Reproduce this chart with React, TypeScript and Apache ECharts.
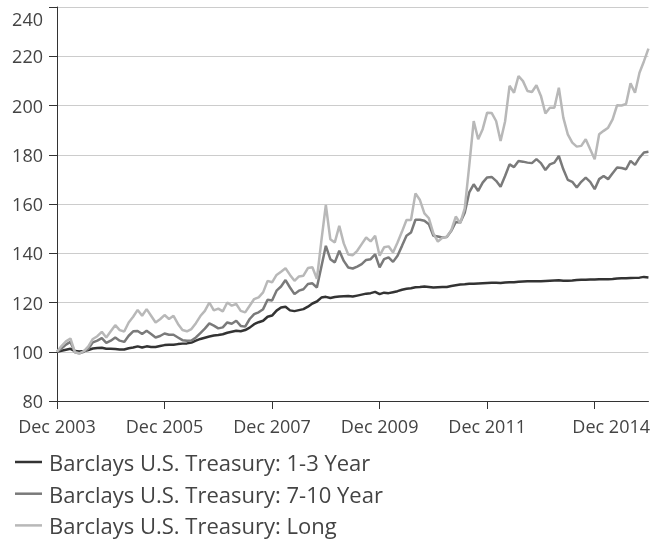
import React, { useEffect, useRef } from "react";
import * as echarts from "echarts";

// Monthly index values, Dec 2003 = 100 (Dec 2003 .. Dec 2014)
const shortTerm: number[] = [
  100, 100.4, 100.8, 101.2, 100.3, 100.1, 100.3, 100.7, 101.3, 101.5, 101.6, 101.2, 101.2,
  101.1, 100.9, 100.9, 101.4, 101.7, 102.2, 101.7, 102.2, 101.9, 101.9, 102.3, 102.7,
  102.8, 102.8, 103.1, 103.3, 103.4, 103.7, 104.5, 105.2, 105.7, 106.2, 106.6, 106.8,
  107.1, 107.7, 108.1, 108.5, 108.3, 108.8, 109.8, 111.2, 112, 112.6, 114.2, 114.7,
  116.7, 118, 118.3, 116.8, 116.5, 116.9, 117.3, 118.3, 119.6, 120.4, 122, 122.3,
  121.8, 122.2, 122.4, 122.5, 122.6, 122.4, 122.8, 123.2, 123.6, 123.8, 124.3, 123.4,
  124, 123.8, 124.2, 124.6, 125.2, 125.6, 125.8, 126.2, 126.3, 126.5, 126.3, 126.1,
  126.2, 126.3, 126.3, 126.7, 127, 127.3, 127.4, 127.6, 127.6, 127.7, 127.8, 127.9,
  128, 128, 127.9, 128.1, 128.2, 128.2, 128.4, 128.5, 128.6, 128.6, 128.6, 128.6,
  128.7, 128.8, 128.9, 129, 128.8, 128.8, 128.9, 129.1, 129.2, 129.2, 129.3, 129.3,
  129.4, 129.4, 129.4, 129.5, 129.7, 129.8, 129.8, 129.9, 130, 130.1, 130.4, 130.2,
];

const midTerm: number[] = [
  100, 101.3, 102.9, 104, 99.8, 99.4, 100, 101.2, 103.8, 104.5, 105.5, 103.6, 104.5,
  105.8, 104.5, 104, 106.5, 108.3, 108.4, 107.2, 108.5, 107.2, 105.8, 106.4, 107.4,
  106.9, 106.9, 105.8, 104.7, 104.5, 104.6, 105.8, 107.6, 109.4, 111.5, 110.6, 109.5,
  109.9, 111.9, 111.4, 112.6, 110.5, 110.2, 113.3, 115.3, 116, 117.3, 121.1, 120.8,
  124.8, 126.5, 129.1, 126.1, 123.4, 124.8, 125.4, 127.5, 127.8, 126.1, 134.5, 143,
  137.6, 136.3, 141, 136.9, 134.2, 133.8, 134.6, 135.6, 137.3, 137.6, 139.6, 134.3,
  137.6, 138.3, 136.5, 139, 143, 147.1, 148.4, 153.6, 153.6, 153.2, 151.8, 147.1,
  146.8, 146.4, 146.6, 149.1, 152.7, 152.5, 156.5, 164.7, 168, 165.3, 168.7, 170.8,
  171, 169.4, 167, 171.4, 176.1, 175, 177.5, 177.2, 176.8, 176.6, 178.2, 176.6,
  173.8, 176.1, 176.8, 179.5, 174.1, 169.8, 169, 166.7, 169, 170.7, 169, 166,
  170.1, 171.4, 170.1, 172.5, 174.8, 174.6, 174.1, 177.5, 175.9, 178.8, 180.9, 181.2,
];

const longTerm: number[] = [
  100, 102.3, 104.2, 105.4, 99.8, 99.3, 100.3, 102.2, 105.2, 106.3, 108.1, 105.8, 108.3,
  110.8, 108.8, 108.2, 111.9, 114.2, 117, 114.6, 117.3, 114.6, 111.9, 113.2, 114.9,
  113.3, 114.6, 111.3, 108.8, 108.3, 109.2, 111.6, 114.5, 116.6, 120, 116.8, 117.5,
  116.4, 120, 118.7, 119.4, 116.6, 116, 118.7, 121.4, 122.1, 124.1, 128.8, 128.2,
  131.2, 132.5, 133.9, 131.2, 128.8, 130.6, 130.9, 134, 134.3, 129.6, 145, 159.6,
  145.7, 144.4, 151.1, 144, 139.5, 139.2, 141, 143.7, 146.4, 144.8, 147.1, 139,
  142.4, 142.8, 140.3, 144.4, 148.8, 153.5, 153.5, 164.3, 161.6, 156.2, 154.2, 148.1,
  144.7, 146.3, 146.7, 149.4, 154.9, 152.2, 158.2, 175.5, 193.7, 186.3, 190.4, 197.1,
  197, 193.7, 185.6, 193.5, 208, 205.2, 212, 209.9, 205.9, 205.5, 208.2, 203.9,
  196.8, 199.1, 199.1, 207.2, 195.1, 188.3, 184.9, 183.3, 183.6, 186.3, 182.2, 178.2,
  188.3, 189.7, 191, 194.4, 200.1, 200, 200.6, 209, 205.2, 213.3, 218, 223.1,
];

const seriesNames: string[] = [
  "Barclays U.S. Treasury: 1-3 Year",
  "Barclays U.S. Treasury: 7-10 Year",
  "Barclays U.S. Treasury: Long",
];

const xTickLabels: string[] = ["Dec 2003", "Dec 2005", "Dec 2007", "Dec 2009", "Dec 2011", "Dec 2014"];
const yTicks = { min: 80, max: 240, interval: 20 };

const monthNames = ["Jan", "Feb", "Mar", "Apr", "May", "Jun", "Jul", "Aug", "Sep", "Oct", "Nov", "Dec"];
const categories: string[] = shortTerm.map((_, k) => {
  const m = 11 + k;
  return `${monthNames[m % 12]} ${2003 + Math.floor(m / 12)}`;
});

const FONT = "'Open Sans', sans-serif";
const TEXT = "#444444";
const AXIS = "#333333";
const COLORS = ["#333333", "#7a7a7a", "#b8b8b8"];
const STEP = 24;

export default function App() {
  const ref = useRef<HTMLDivElement>(null);
  useEffect(() => {
    if (!ref.current) return;
    const chart = echarts.init(ref.current, null, { renderer: "svg" });
    const dataSets = [shortTerm, midTerm, longTerm];
    chart.setOption({
      animation: false,
      textStyle: { fontFamily: FONT },
      grid: { left: 57, right: 3, top: 7, bottom: 144, containLabel: false },
      legend: {
        orient: "vertical",
        left: 15,
        top: 451,
        padding: 0,
        icon: "rect",
        itemWidth: 27,
        itemHeight: 2.5,
        itemGap: 9.7,
        selectedMode: false,
        data: seriesNames,
        textStyle: { fontFamily: FONT, fontSize: 22, color: TEXT, lineHeight: 22, padding: [0, 0, 0, 2] },
      },
      xAxis: {
        type: "category",
        data: categories,
        boundaryGap: false,
        axisLine: { show: true, lineStyle: { color: AXIS, width: 1 } },
        axisTick: { show: true, interval: STEP - 1, length: 8, lineStyle: { color: AXIS } },
        splitLine: { show: false },
        axisLabel: {
          interval: STEP - 1,
          margin: 16,
          fontFamily: FONT,
          fontSize: 18,
          color: TEXT,
          formatter: (_v: string, index: number) => {
            if (index % STEP !== 0) return "";
            const j = index / STEP;
            if (j >= xTickLabels.length) return "";
            return j === xTickLabels.length - 1 ? `{last|${xTickLabels[j]}}` : xTickLabels[j];
          },
          rich: {
            last: { fontFamily: FONT, fontSize: 18, color: TEXT, padding: [0, 0, 0, 33] },
          },
        },
      },
      yAxis: {
        type: "value",
        min: yTicks.min,
        max: yTicks.max,
        interval: yTicks.interval,
        axisLine: { show: true, lineStyle: { color: AXIS, width: 1 } },
        axisTick: { show: true, length: 8, lineStyle: { color: AXIS } },
        splitLine: { show: true, lineStyle: { color: "#cccccc", width: 1 } },
        axisLabel: {
          margin: 14,
          fontFamily: FONT,
          fontSize: 18,
          color: TEXT,
          formatter: (v: number) => (v === yTicks.max ? `{top|${v}}` : `${v}`),
          rich: {
            top: { fontFamily: FONT, fontSize: 18, color: TEXT, padding: [24, 0, 0, 0] },
          },
        },
      },
      series: dataSets.map((d, i) => ({
        name: seriesNames[i],
        type: "line",
        data: d,
        showSymbol: false,
        symbol: "none",
        color: COLORS[i],
        lineStyle: { width: 2.5, color: COLORS[i] },
        itemStyle: { color: COLORS[i] },
      })),
    });
    return () => chart.dispose();
  }, []);
  return <div ref={ref} style={{ position: "fixed", left: 0, top: 0, width: 653, height: 545 }} />;
}
